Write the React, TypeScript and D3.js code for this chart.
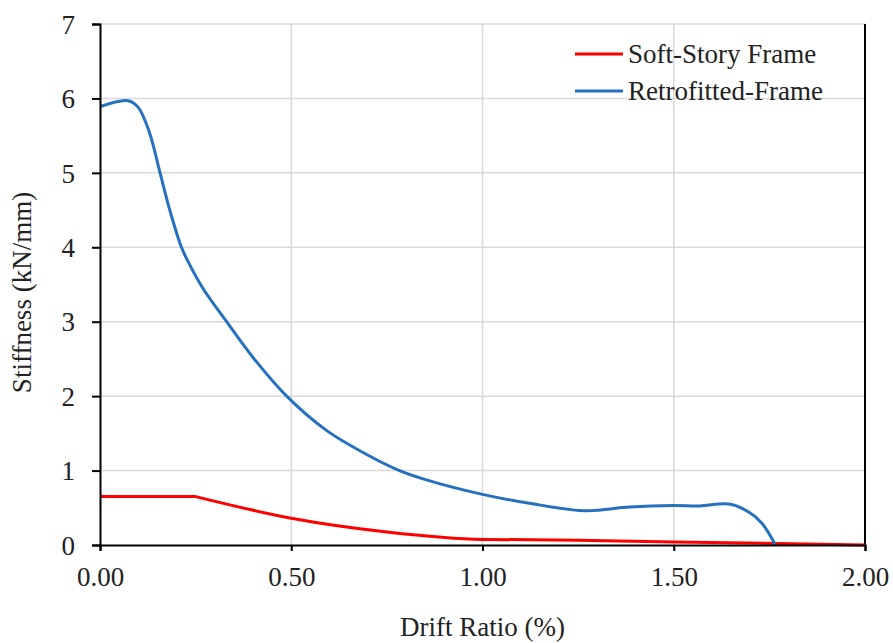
import { useRef, useEffect } from "react";
import * as d3 from "d3";

// Soft-story frame (red)
const softX = [0, 0.25, 0.5, 0.75, 1.0, 1.25, 1.5, 1.77, 2.0];
const softY = [0.65, 0.65, 0.36, 0.175, 0.075, 0.065, 0.04, 0.02, 0];

// Retrofitted frame (blue)
const retroX = [
  0, 0.073, 0.1, 0.13, 0.157, 0.183, 0.213, 0.235, 0.269, 0.331, 0.4, 0.488,
  0.592, 0.696, 0.783, 0.86, 1.0, 1.123, 1.27, 1.384, 1.5, 1.567, 1.645,
  1.697, 1.731, 1.766,
];
const retroY = [
  5.89, 5.97, 5.88, 5.53, 5.0, 4.49, 4.0, 3.76, 3.45, 3.0, 2.52, 2.0, 1.54,
  1.22, 1.0, 0.865, 0.68, 0.56, 0.46, 0.51, 0.53, 0.525, 0.55, 0.44, 0.29, 0,
];

const xTicks = [0, 0.5, 1.0, 1.5, 2.0];
const yTicks = [0, 1, 2, 3, 4, 5, 6, 7];

const seriesNames = ["Soft-Story Frame", "Retrofitted-Frame"];
const seriesColors = ["#ff0000", "#2571c0"];

const App = () => {
  const svgRef = useRef<SVGSVGElement | null>(null);

  useEffect(() => {
    const svg = d3.select(svgRef.current);
    svg.selectAll("*").remove();

    const width = 893;
    const height = 643;
    const margin = { top: 24, right: 28, bottom: 98, left: 100 };
    const font = "'Liberation Serif', 'Times New Roman', serif";

    const x = d3
      .scaleLinear()
      .domain([0, 2])
      .range([margin.left, width - margin.right]);
    const y = d3
      .scaleLinear()
      .domain([0, 7])
      .range([height - margin.bottom, margin.top]);

    // gridlines
    svg
      .append("g")
      .selectAll("line")
      .data(yTicks.filter((d) => d > 0))
      .join("line")
      .attr("x1", margin.left)
      .attr("x2", width - margin.right)
      .attr("y1", (d) => y(d))
      .attr("y2", (d) => y(d))
      .attr("stroke", "#d9d9d9")
      .attr("stroke-width", 1.5);
    svg
      .append("g")
      .selectAll("line")
      .data(xTicks.filter((d) => d > 0 && d < 2))
      .join("line")
      .attr("x1", (d) => x(d))
      .attr("x2", (d) => x(d))
      .attr("y1", y(0))
      .attr("y2", y(7))
      .attr("stroke", "#d9d9d9")
      .attr("stroke-width", 1.5);

    // right border
    svg
      .append("line")
      .attr("x1", x(2))
      .attr("x2", x(2))
      .attr("y1", y(0))
      .attr("y2", y(7))
      .attr("stroke", "#000")
      .attr("stroke-width", 2);

    const soft = softX.map((v, i) => [v, softY[i]] as [number, number]);
    const retro = retroX.map((v, i) => [v, retroY[i]] as [number, number]);

    // red: flat plateau, then a smooth decay starting at the sharp corner
    const flatLine = d3
      .line<[number, number]>()
      .x((d) => x(d[0]))
      .y((d) => y(d[1]));
    const decayLine = d3
      .line<[number, number]>()
      .x((d) => x(d[0]))
      .y((d) => y(d[1]))
      .curve(d3.curveMonotoneX);
    svg
      .append("path")
      .attr("fill", "none")
      .attr("stroke", seriesColors[0])
      .attr("stroke-width", 3)
      .attr("stroke-linejoin", "round")
      .attr("d", (flatLine(soft.slice(0, 2)) || "") + (decayLine(soft.slice(1)) || "").replace(/^M[^C]*/, ""));

    // blue
    const smooth = d3
      .line<[number, number]>()
      .x((d) => x(d[0]))
      .y((d) => y(d[1]))
      .curve(d3.curveCatmullRom.alpha(0.5));
    svg
      .append("path")
      .datum(retro)
      .attr("fill", "none")
      .attr("stroke", seriesColors[1])
      .attr("stroke-width", 3)
      .attr("d", smooth);

    // axes
    const xAxis = svg
      .append("g")
      .attr("transform", `translate(0,${y(0)})`)
      .call(
        d3
          .axisBottom(x)
          .tickValues(xTicks)
          .tickFormat((d) => d3.format(".2f")(d as number))
          .tickSizeOuter(0)
          .tickSize(6)
          .tickPadding(16)
      );
    const yAxis = svg
      .append("g")
      .attr("transform", `translate(${x(0)},0)`)
      .call(
        d3
          .axisLeft(y)
          .tickValues(yTicks)
          .tickFormat(d3.format("d"))
          .tickSizeOuter(0)
          .tickSize(8)
          .tickPadding(17)
      );
    [xAxis, yAxis].forEach((g) => {
      g.select(".domain").attr("stroke", "#000").attr("stroke-width", 2);
      g.selectAll(".tick line").attr("stroke", "#000").attr("stroke-width", 2);
      g.selectAll(".tick text")
        .attr("fill", "#222")
        .style("font-family", font)
        .style("font-size", "27px");
    });
    yAxis.selectAll(".tick text").attr("dy", "0.34em");

    // axis titles
    svg
      .append("text")
      .attr("x", (x(0) + x(2)) / 2)
      .attr("y", 636)
      .attr("text-anchor", "middle")
      .attr("fill", "#222")
      .style("font-family", font)
      .style("font-size", "27px")
      .text("Drift Ratio (%)");
    svg
      .append("text")
      .attr("transform", `translate(31,${(y(0) + y(7)) / 2 + 8}) rotate(-90)`)
      .attr("text-anchor", "middle")
      .attr("fill", "#222")
      .style("font-family", font)
      .style("font-size", "27px")
      .text("Stiffness (kN/mm)");

    // legend
    seriesNames.forEach((name, i) => {
      const ly = 54 + i * 37;
      svg
        .append("line")
        .attr("x1", 575)
        .attr("x2", 623)
        .attr("y1", ly)
        .attr("y2", ly)
        .attr("stroke", seriesColors[i])
        .attr("stroke-width", 3);
      svg
        .append("text")
        .attr("x", 628)
        .attr("y", ly + 9)
        .attr("fill", "#222")
        .style("font-family", font)
        .style("font-size", "27px")
        .text(name);
    });
  }, []);

  return (
    <svg
      ref={svgRef}
      width={893}
      height={643}
      style={{ position: "absolute", left: 0, top: 0, background: "#fff" }}
    />
  );
};

export default App;
